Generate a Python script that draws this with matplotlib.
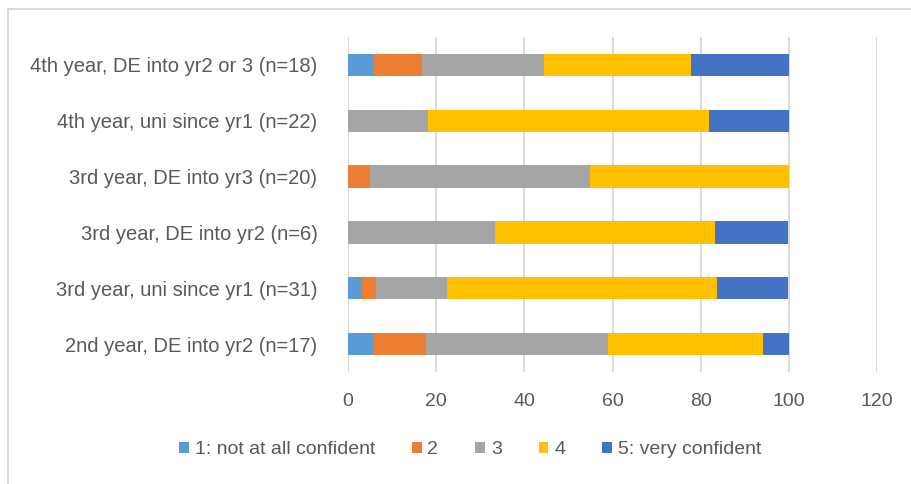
import matplotlib.pyplot as plt
import matplotlib.lines as mlines
import numpy as np

# ---- data (percent of respondents, bottom row first) ----
categories = [
    "2nd year, DE into yr2 (n=17)",
    "3rd year, uni since yr1 (n=31)",
    "3rd year, DE into yr2 (n=6)",
    "3rd year, DE into yr3 (n=20)",
    "4th year, uni since yr1 (n=22)",
    "4th year, DE into yr2 or 3 (n=18)",
]
level1 = [5.9, 3.2, 0.0, 0.0, 0.0, 5.6]
level2 = [11.8, 3.2, 0.0, 5.0, 0.0, 11.1]
level3 = [41.2, 16.1, 33.3, 50.0, 18.2, 27.8]
level4 = [35.3, 61.3, 50.0, 45.0, 63.6, 33.3]
level5 = [5.9, 16.1, 16.6, 0.0, 18.2, 22.2]
series_names = ["1: not at all confident", "2", "3", "4", "5: very confident"]
colors = ["#5B9BD5", "#ED7D31", "#A5A5A5", "#FFC000", "#4472C4"]
xticks = [0, 20, 40, 60, 80, 100, 120]

txt = "#595959"
plt.rcParams["font.family"] = ["Liberation Sans", "DejaVu Sans"]

fig = plt.figure(figsize=(9.11, 4.84), dpi=100)
ax = fig.add_axes([348 / 911, 1 - 372 / 484, (877 - 348) / 911, (372 - 37) / 484])

y = np.arange(len(categories))
left = np.zeros(len(categories))
for vals, name, c in zip([level1, level2, level3, level4, level5], series_names, colors):
    ax.barh(y, vals, left=left, height=0.4, color=c, label=name, zorder=3)
    left += np.array(vals)

ax.set_xlim(0, 120)
ax.set_ylim(-0.5, len(categories) - 0.5)
ax.set_xticks(xticks)
ax.set_yticks(y)
ax.set_yticklabels(categories)
ax.tick_params(axis="both", length=0, colors=txt, labelsize=14)
ax.tick_params(axis="y", labelsize=14.5, pad=22)
ax.tick_params(axis="x", pad=15)
ax.grid(axis="x", color="#D9D9D9", linewidth=1.4, zorder=0)
for s in ax.spines.values():
    s.set_visible(False)

leg = fig.legend(loc="center", bbox_to_anchor=(470 / 911, 1 - 450 / 484), ncol=5,
                 frameon=False, handlelength=0.5, handleheight=0.5, handletextpad=0.3,
                 columnspacing=1.9, prop={"size": 14})
for t in leg.get_texts():
    t.set_color(txt)

# chart frame (only top and left edges visible)
fig.add_artist(mlines.Line2D([8 / 911, 1], [1 - 9 / 484] * 2, color="#D9D9D9", lw=1.5))
fig.add_artist(mlines.Line2D([8 / 911] * 2, [0, 1 - 9 / 484], color="#D9D9D9", lw=1.5))

fig.savefig("out.png", dpi=100)
